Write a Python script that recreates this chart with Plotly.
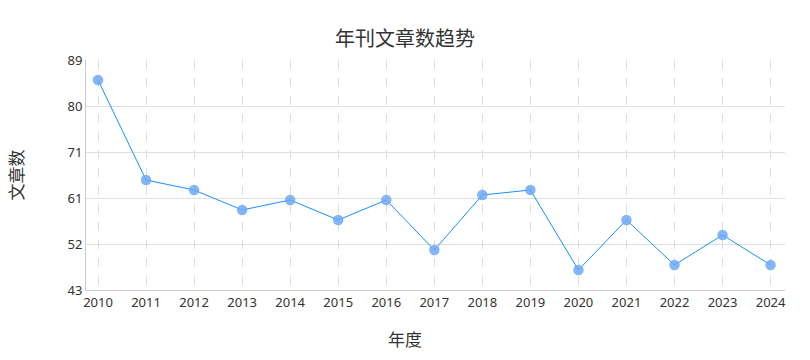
import plotly.graph_objects as go

years = [2010, 2011, 2012, 2013, 2014, 2015, 2016, 2017, 2018, 2019, 2020, 2021, 2022, 2023, 2024]
counts = [85, 65, 63, 59, 61, 57, 61, 51, 62, 63, 47, 57, 48, 54, 48]
y_tickvals = [43, 52.2, 61.4, 70.6, 79.8, 89]
y_ticktext = ["43", "52", "61", "71", "80", "89"]

fig = go.Figure()
fig.add_trace(go.Scatter(
    x=years, y=counts, mode="lines+markers",
    line=dict(color="#1890ff", width=1),
    marker=dict(size=10.5, color="rgba(110,168,245,0.85)", line=dict(width=0)),
    hoverinfo="x+y", showlegend=False,
))

cjk = "Noto Sans CJK SC, Noto Sans, sans-serif"
latin = "Noto Sans, Open Sans, sans-serif"
fig.update_layout(
    width=810, height=360,
    margin=dict(l=86, r=25, t=60, b=70, autoexpand=False),
    paper_bgcolor="white", plot_bgcolor="white",
    font=dict(family=latin, color="#333333", size=13),
    title=dict(text="年刊文章数趋势", x=0.5, xanchor="center", y=0.893, yanchor="middle",
               font=dict(size=20, color="#333333", family=cjk)),
    xaxis=dict(
        range=[2009.75, 2024.3], tickvals=years, ticktext=[str(y) for y in years],
        showgrid=True, gridcolor="#dddddd", griddash="dash", gridwidth=1,
        showline=True, linecolor="#cccccc", linewidth=1, zeroline=False,
        ticks="", tickfont=dict(size=13, color="#333333", family=latin),
        automargin=False,
    ),
    yaxis=dict(
        range=[43, 89], tickvals=y_tickvals, ticktext=y_ticktext,
        showgrid=True, gridcolor="#e0e0e0", gridwidth=1,
        showline=True, linecolor="#cccccc", linewidth=1, zeroline=False,
        ticks="", tickfont=dict(size=13, color="#333333", family=latin),
        automargin=False,
        title=dict(text="文章数", font=dict(size=17, color="#333333", family=cjk), standoff=39),
    ),
    annotations=[dict(
        text="年度", xref="paper", yref="paper", x=0.4564, y=-0.213,
        xanchor="center", yanchor="middle", showarrow=False,
        font=dict(size=17, color="#333333", family=cjk),
    )],
)
fig.write_html("out.html", post_script="document.body.style.margin='0px';",
               config={"displayModeBar": False})
